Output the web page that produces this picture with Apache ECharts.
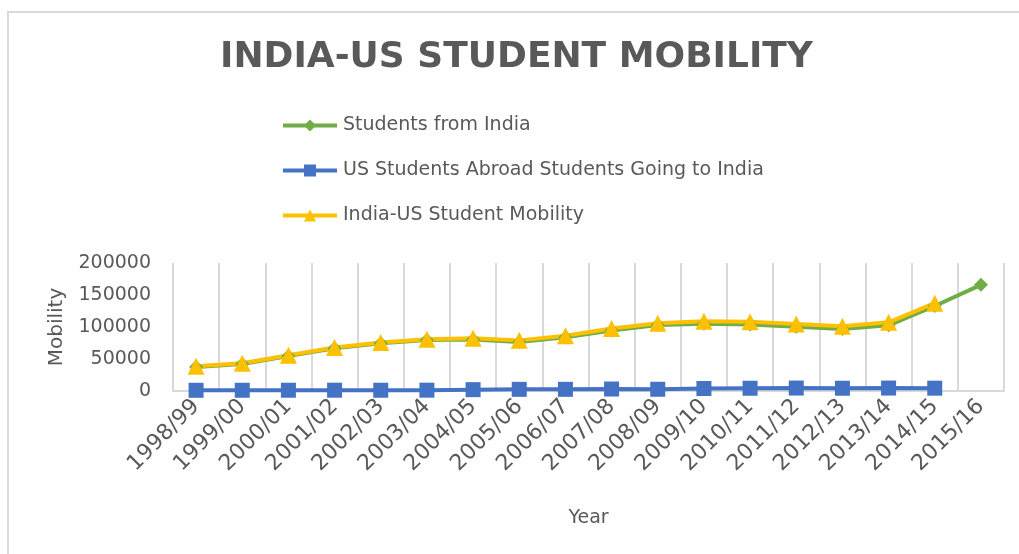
<!DOCTYPE html>
<html>
<head>
<meta charset="utf-8">
<script src="https://cdn.jsdelivr.net/npm/echarts@6/dist/echarts.min.js"></script>
<style>html,body{margin:0;padding:0;background:#fff}#c{width:1019px;height:554px}</style>
</head>
<body>
<div id="c"></div>
<script>
const years = ['1998/99','1999/00','2000/01','2001/02','2002/03','2003/04','2004/05','2005/06','2006/07','2007/08','2008/09','2009/10','2010/11','2011/12','2012/13','2013/14','2014/15','2015/16'];
const studentsFromIndia = [37482,42337,54664,66836,74603,79736,80466,76503,83833,94563,103260,104897,103895,100270,96754,102673,132888,165918];
const usStudentsToIndia = [1100,1150,1200,1250,1200,1300,2100,2600,2600,3100,2700,3900,4300,4600,4300,4600,4400,null];
const mobilityTotal = [38582,43487,55864,68086,75803,81036,82566,79103,86433,97663,105960,108797,108195,104870,101054,107273,137288,null];
const yTicks = [0,50000,100000,150000,200000];

const GREY = '#595959';
const FONT = 'DejaVu Sans';
const chart = echarts.init(document.getElementById('c'));
chart.setOption({
  animation: false,
  backgroundColor: '#fff',
  graphic: [{
    type: 'rect', shape: {x: 8, y: 12, width: 1100, height: 600},
    style: {fill: 'none', stroke: '#d9d9d9', lineWidth: 2}, silent: true
  }],
  title: {
    text: 'INDIA-US STUDENT MOBILITY',
    left: 220, top: 40, padding: 0,
    textStyle: {fontFamily: FONT, fontSize: 36, fontWeight: 'bold', color: GREY}
  },
  legend: {
    orient: 'vertical', left: 281, top: 116, padding: 0,
    itemWidth: 54, itemHeight: 15, itemGap: 26,
    lineStyle: {width: 4},
    textStyle: {fontFamily: FONT, fontSize: 19, color: GREY, padding: [0,0,0,1]},
    data: ['Students from India','US Students Abroad Students Going to India','India-US Student Mobility']
  },
  grid: {left: 173, right: 15, top: 263, bottom: 163},
  xAxis: {
    type: 'category', data: years, boundaryGap: true,
    name: 'Year', nameLocation: 'middle', nameGap: 118,
    nameTextStyle: {fontFamily: FONT, fontSize: 19, color: GREY},
    axisLine: {lineStyle: {color: '#d9d9d9', width: 2}},
    axisTick: {show: false},
    axisLabel: {rotate: 45, interval: 0, fontFamily: FONT, fontSize: 22, color: GREY, margin: 12},
    splitLine: {show: true, lineStyle: {color: '#d9d9d9', width: 2}}
  },
  yAxis: {
    type: 'value', min: yTicks[0], max: yTicks[yTicks.length - 1], interval: yTicks[1] - yTicks[0],
    name: 'Mobility', nameLocation: 'middle', nameGap: 106, nameRotate: 90,
    nameTextStyle: {fontFamily: FONT, fontSize: 20, color: GREY},
    axisLine: {show: false}, axisTick: {show: false},
    axisLabel: {fontFamily: FONT, fontSize: 19, color: GREY, margin: 22, formatter: v => String(v)},
    splitLine: {show: false}
  },
  series: [
    {name: 'Students from India', type: 'line', data: studentsFromIndia,
     symbol: 'diamond', symbolSize: 14,
     itemStyle: {color: '#70AD47'}, lineStyle: {color: '#70AD47', width: 4}},
    {name: 'US Students Abroad Students Going to India', type: 'line', data: usStudentsToIndia,
     symbol: 'rect', symbolSize: 15,
     itemStyle: {color: '#4472C4'}, lineStyle: {color: '#4472C4', width: 4}},
    {name: 'India-US Student Mobility', type: 'line', data: mobilityTotal,
     symbol: 'triangle', symbolSize: 17,
     itemStyle: {color: '#FFC000'}, lineStyle: {color: '#FFC000', width: 4}}
  ]
});
</script>
</body>
</html>
